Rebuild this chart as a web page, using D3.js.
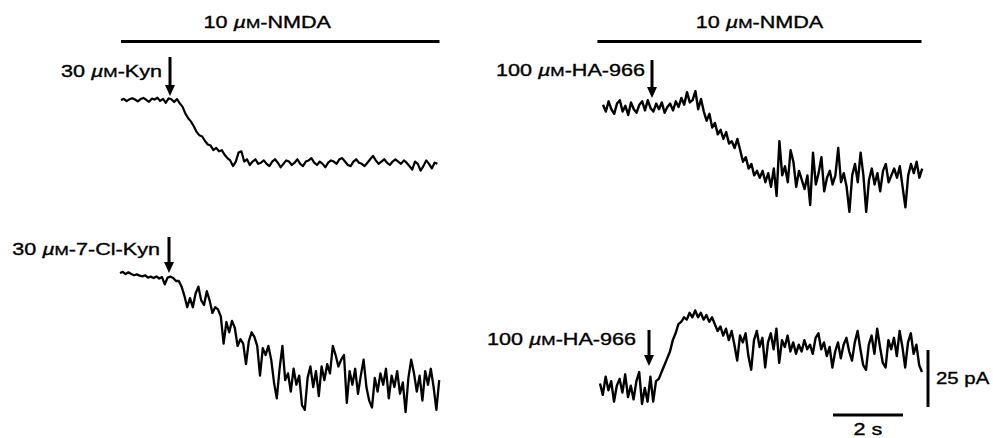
<!DOCTYPE html>
<html>
<head>
<meta charset="utf-8">
<script src="https://cdn.jsdelivr.net/npm/d3@7"></script>
<style>
body { margin: 0; background: #fff; }
text { font-family: 'Liberation Sans', Arial, sans-serif; font-size: 17px; fill: #000; stroke: #000; stroke-width: 0.35px; }
</style>
</head>
<body>
<div id="draw"></div>
<script>
var width = 993, height = 438;
var dt = 0.08; // seconds between samples
var pxPerSec = 35, pxPerPA = 57 / 25;

// currents in pA, relative to the level at the start of each trace
var kyn = [0, 0.5, -0.5, 0.3, 0.8, 0.2, -0.6, 0.4, 0.9, 0.1, -0.8, 0.6, 0.2, 1.0, -0.4, 0.5, -1.2, 0.7, 0.3, -0.9, 0.4,
	-1.5, -3, -6, -8, -9.5, -11.5, -14, -15.5, -16, -18, -19.5, -20, -22, -21, -22.5, -22, -24, -25.5, -26.5, -29, -27, -23, -22.5, -27, -26,
	-28.5, -27, -26, -28, -27.5, -26.5, -28, -29, -27, -26, -27.5, -29.5, -28, -26.5, -27, -28.5, -27.5, -26, -28, -29,
	-27, -26.5, -25.5, -27.5, -28.5, -27, -28, -29.5, -27.5, -26.5, -27, -28, -26, -25.5, -27, -28.5, -29, -27, -26, -27.5,
	-28, -29, -27.5, -26, -24.5, -26.5, -28, -27, -26, -27.5, -28.5, -27, -26, -27, -28, -26.5, -27.5, -29, -30.5, -27,
	-28, -31, -29, -26.5, -28, -30, -27.5, -28];

var haTop = [1, -2, 2.5, -1, -3, 1.5, 3, -2, 0.5, -3.5, 2, -1, -2.5, 1, 2.5, -1.5, 3, -0.5, -2, 1.5, -1, 2, -2.5, 0, 1.5, -1.5,
	2.5, 0, 4, 1, 6.5, 2, 3, 7, -1, 3.5,
	-2, -6, -3, -9, -7, -12, -10, -14, -11, -16, -15, -18, -14, -19, -24, -22, -27, -25, -30, -28,
	-31, -28, -33, -29, -35, -27, -39, -15, -30, -26, -33, -19, -24, -35, -28, -32, -36, -30, -43, -20,
	-34, -29, -22, -37, -31, -28, -34, -30, -18, -33, -29, -35, -46, -30, -25, -33, -20, -30, -46, -32,
	-27, -34, -29, -37, -28, -25, -33, -30, -27, -31, -26, -35, -44, -30, -25, -29, -24, -31, -27];

var clKyn = [0, 0.5, -0.5, 0.3, -0.4, -1, -0.6, -1.2, -1.5, -1, -2, -1.6, -2.2, -1.5, -2.4, -1.8, -5, -2, -1.6, -2.2, -3.5,
	-3.5, -6, -10, -15, -11, -15, -9, -6, -12, -14, -8, -12, -17.5, -15, -16, -19, -31, -21.5, -26, -21,
	-24, -32, -29, -31, -40, -30, -26, -28, -32, -45, -33, -36, -32, -38, -48, -55, -42, -32, -47,
	-44, -52, -42, -49, -45, -58, -60, -46, -41, -50, -43, -54, -41, -47, -40, -44, -32, -36, -41, -38,
	-36, -57, -43, -49, -42, -53, -45, -38, -50, -56, -59, -46, -52, -44, -49, -42, -55, -45, -50, -43,
	-53, -48, -61, -46, -38, -44, -52, -45, -56, -43, -49, -42, -50, -60, -47];

var haBottom = [2, -3, 5, -1, 3, -6, 1, 4, -2, 6, -4, 1, -5, 3, 7, -7, 0, -6, 5,
	-6, 3, 4, 7, 10, 13, 16, 21, 24, 28, 29, 31, 30, 33, 31, 34, 31, 33, 30, 32,
	29, 31, 28, 25, 27, 23, 26, 21, 25, 19, 12, 23, 20, 24, 14, 8, 21, 25, 18, 22,
	9, 20, 24, 17, 26, 11, 21, 18, 23, 16, 20, 15, 19, 16, 21, 17, 19, 15, 22, 24,
	17, 20, 14, 18, 9, 16, 20, 13, 19, 22, 16, 12, 20, 25, 17, 10, 8, 19, 23, 15,
	26, 18, 11, 9, 21, 17, 22, 14, 25, 18, 9, 20, 24, 15, 19, 10, 7];

var doses = ['30', '100', '30', '100'];
var drugs = ['-Kyn', '-HA-966', '-7-Cl-Kyn', '-HA-966'];
var arrowTime = 1.4; // s
var nmdaStart = [0, -0.16], nmdaEnd = [9.1, 9.1];
var scaleTime = 2, scaleCurrent = 25;

// layout of each trace (pixels)
var panels = [
	{ data: kyn, x0: 121, base: 100, labelX: 162, labelY: 77, arrowTop: 57, arrowTip: 96, sw: 2.2 },
	{ data: haTop, x0: 603, base: 107, labelX: 645, labelY: 76, arrowTop: 60, arrowTip: 98, sw: 2.4 },
	{ data: clKyn, x0: 120, base: 273, labelX: 160, labelY: 255, arrowTop: 237, arrowTip: 273, sw: 2.3 },
	{ data: haBottom, x0: 600, base: 388, labelX: 636, labelY: 345, arrowTop: 330, arrowTip: 366, sw: 2.4 }
];

var svg = d3
	.select('#draw')
	.append('svg')
	.attr('width', width)
	.attr('height', height);

function doseText(sel, dose, drug) {
	sel.append('tspan').text(dose + ' ');
	sel.append('tspan').style('font-style', 'italic').text('\u00b5');
	sel.append('tspan').style('font-size', '13.5px').text('M');
	sel.append('tspan').text(drug);
}

panels.forEach(function (p, k) {
	var x = d3.scaleLinear().domain([0, 10]).range([p.x0, p.x0 + 10 * pxPerSec]);
	var y = d3.scaleLinear().domain([0, 25]).range([p.base, p.base - 25 * pxPerPA]);
	var line = d3
		.line()
		.x(function (d, i) { return x(i * dt); })
		.y(function (d) { return y(d); });

	svg.append('path')
		.datum(p.data)
		.attr('d', line)
		.style('fill', 'none')
		.style('stroke', '#000')
		.style('stroke-width', p.sw)
		.style('stroke-linejoin', 'round');

	// application arrow
	var ax = x(arrowTime);
	svg.append('line')
		.attr('x1', ax).attr('x2', ax)
		.attr('y1', p.arrowTop).attr('y2', p.arrowTip - 8)
		.style('stroke', '#000').style('stroke-width', 3);
	svg.append('path')
		.attr('d', 'M' + (ax - 5) + ',' + (p.arrowTip - 11) + 'L' + (ax + 5) + ',' + (p.arrowTip - 11) + 'L' + ax + ',' + p.arrowTip + 'Z')
		.style('fill', '#000');

	var t = svg.append('text')
		.attr('transform', 'translate(' + p.labelX + ',' + p.labelY + ') scale(1.27,1)')
		.style('text-anchor', 'end');
	doseText(t, doses[k], drugs[k]);

	// NMDA bar above the top traces
	if (k < 2) {
		var x1 = x(nmdaStart[k]), x2 = x(nmdaEnd[k]);
		svg.append('line')
			.attr('x1', x1).attr('x2', x2)
			.attr('y1', 41.5).attr('y2', 41.5)
			.style('stroke', '#000').style('stroke-width', 3);
		var nt = svg.append('text')
			.attr('transform', 'translate(' + ((x1 + x2) / 2 - (k === 0 ? 13 : 0)) + ',28) scale(1.27,1)')
			.style('text-anchor', 'middle');
		doseText(nt, '10', '-NMDA');
	}

	// calibration bars next to the last trace
	if (k === 3) {
		var sx = d3.scaleLinear().domain([0, scaleTime]).range([833, 833 + scaleTime * pxPerSec]);
		svg.append('line')
			.attr('x1', sx(0)).attr('x2', sx(scaleTime))
			.attr('y1', 415).attr('y2', 415)
			.style('stroke', '#000').style('stroke-width', 3);
		svg.append('text')
			.attr('transform', 'translate(' + (sx(0) + sx(scaleTime)) / 2 + ',435) scale(1.27,1)')
			.style('text-anchor', 'middle')
			.text(scaleTime + ' s');
		var sy = d3.scaleLinear().domain([0, scaleCurrent]).range([407, 407 - scaleCurrent * pxPerPA]);
		svg.append('line')
			.attr('x1', 928).attr('x2', 928)
			.attr('y1', sy(0)).attr('y2', sy(scaleCurrent))
			.style('stroke', '#000').style('stroke-width', 3);
		svg.append('text')
			.attr('transform', 'translate(936,384) scale(1.2,1)')
			.text(scaleCurrent + ' pA');
	}
});
</script>
</body>
</html>
